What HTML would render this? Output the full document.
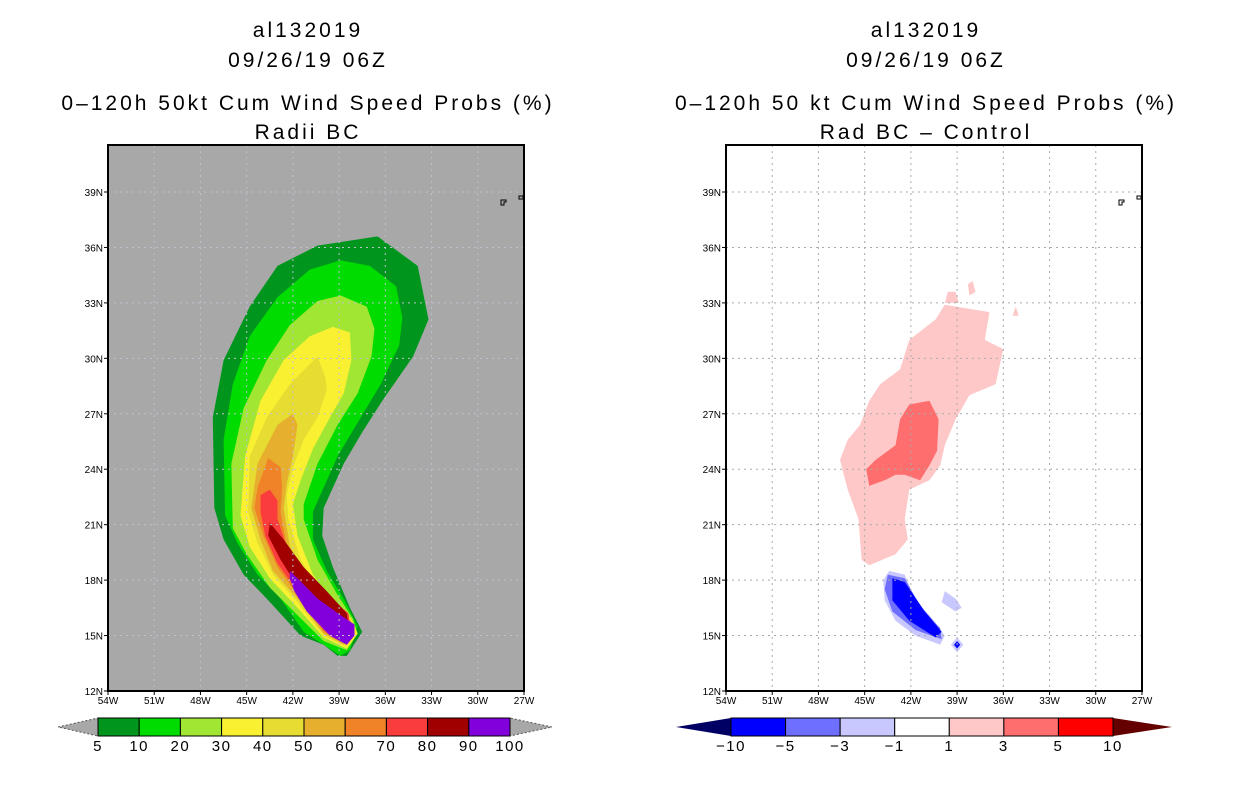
<!DOCTYPE html>
<html><head><meta charset="utf-8"><style>
html,body{margin:0;padding:0;background:#fff;}
svg{display:block;font-family:"Liberation Sans",sans-serif;}
</style></head><body>
<svg id="chart" width="1236" height="800" viewBox="0 0 1236 800">
<g font-size="21" letter-spacing="3" text-anchor="middle" fill="#000">
<text x="308" y="37">al132019</text><text x="308" y="67">09/26/19 06Z</text>
<text x="308" y="110">0–120h 50kt Cum Wind Speed Probs (%)</text><text x="308" y="139">Radii BC</text></g>
<g font-size="21" letter-spacing="3" text-anchor="middle" fill="#000">
<text x="926" y="37">al132019</text><text x="926" y="67">09/26/19 06Z</text>
<text x="926" y="110">0–120h 50 kt Cum Wind Speed Probs (%)</text><text x="926" y="139">Rad BC – Control</text></g>
<g id="left"></g>
<g id="right"></g>
<g id="cbL"></g>
<g id="cbR"></g>
</svg>
<script>
const NS="http://www.w3.org/2000/svg";
const lonTicks=[-54,-51,-48,-45,-42,-39,-36,-33,-30,-27];
const latTicks=[12,15,18,21,24,27,30,33,36,39];
const leftLevels=[5,10,20,30,40,50,60,70,80,90,100];
const leftColors=["#00961e","#00dc00","#a0e632","#faf032","#e6dc32","#e6af2d","#f08228","#fa3c3c","#a00000","#8200dc"];
const rightLevels=[-10,-5,-3,-1,1,3,5,10];
const rightColors=["#0000ff","#6e6eff","#c8c8ff","#ffffff","#ffc8c8","#ff6e6e","#ff0000"];
const prob5=[[-36.5,36.6],[-33.9,35.0],[-33.2,32.1],[-34.2,30.1],[-36.2,27.7],[-37.5,26.0],[-38.7,24.3],[-40.0,21.9],[-40.1,20.4],[-39.4,18.7],[-38.3,16.5],[-37.5,15.2],[-38.5,13.9],[-39.1,13.9],[-40.0,14.5],[-41.5,15.0],[-43.7,17.0],[-45.2,18.3],[-46.5,20.2],[-47.1,21.9],[-47.2,26.8],[-46.5,29.9],[-44.8,32.8],[-43.0,35.0],[-40.4,36.1]];
const prob10=[[-38.9,35.3],[-37.0,35.0],[-35.3,33.9],[-34.9,32.2],[-35.1,30.7],[-36.3,28.6],[-37.6,26.8],[-39.1,24.7],[-40.7,21.7],[-40.7,20.2],[-39.8,18.5],[-38.7,17.0],[-37.8,15.5],[-38.3,14.2],[-38.9,13.9],[-40.0,14.5],[-41.3,15.2],[-42.8,17.0],[-44.3,18.3],[-45.6,20.0],[-46.4,21.5],[-46.5,25.6],[-45.9,28.6],[-44.8,31.2],[-43.0,33.3],[-40.9,34.8]];
const prob20=[[-38.9,33.4],[-37.2,32.8],[-36.7,31.6],[-36.9,30.1],[-37.8,28.1],[-39.1,26.4],[-40.4,24.3],[-41.3,22.1],[-41.3,21.3],[-40.4,19.1],[-39.1,17.2],[-38.1,15.9],[-37.8,15.1],[-38.5,14.2],[-40.0,14.7],[-41.7,16.1],[-43.5,17.6],[-45.0,19.4],[-45.9,20.8],[-46.0,24.3],[-45.2,27.3],[-43.7,29.9],[-42.2,31.8],[-40.4,33.1]];
const prob30=[[-39.4,31.7],[-38.3,31.4],[-38.2,29.9],[-38.7,28.1],[-39.6,26.8],[-40.7,25.1],[-41.5,23.4],[-42.0,22.1],[-41.7,20.4],[-40.7,18.3],[-39.4,16.8],[-38.2,15.9],[-37.8,15.1],[-38.5,14.3],[-40.0,14.9],[-41.7,16.5],[-43.5,18.1],[-44.8,19.8],[-45.4,21.5],[-45.1,24.7],[-44.1,27.7],[-42.6,29.9],[-40.9,31.2]];
const prob40=[[-40.4,30.1],[-39.9,29.0],[-39.8,28.3],[-40.4,26.8],[-41.3,25.6],[-42.0,24.1],[-42.4,22.6],[-42.3,21.3],[-41.5,19.1],[-40.2,17.4],[-38.9,16.3],[-38.2,15.8],[-38.0,15.1],[-38.5,14.4],[-40.0,15.0],[-41.7,16.8],[-43.3,18.3],[-44.3,20.0],[-44.9,21.7],[-44.8,24.7],[-43.7,26.8],[-42.2,28.6]];
const prob50=[[-42.0,27.0],[-41.7,26.4],[-42.0,24.7],[-42.4,23.2],[-42.6,21.9],[-42.2,19.8],[-41.1,18.1],[-39.6,16.8],[-38.3,15.9],[-38.1,15.2],[-38.7,14.5],[-40.0,15.1],[-41.7,17.0],[-43.3,18.5],[-44.1,20.2],[-44.7,21.9],[-44.3,24.3],[-43.0,26.4]];
const prob60=[[-43.6,24.6],[-42.8,24.1],[-42.7,23.0],[-42.8,21.7],[-42.4,19.8],[-41.3,18.3],[-39.8,17.0],[-38.4,16.1],[-38.2,15.4],[-38.7,14.6],[-40.0,15.2],[-41.7,17.2],[-43.0,18.7],[-43.9,20.4],[-44.5,21.9],[-44.3,23.0]];
const prob70=[[-43.5,22.9],[-43.0,22.3],[-43.0,21.3],[-42.4,19.8],[-41.3,18.5],[-39.8,17.2],[-38.4,16.2],[-38.3,15.5],[-38.7,14.7],[-40.0,15.3],[-41.7,17.4],[-43.0,18.9],[-43.8,20.4],[-44.1,21.7],[-44.1,22.6]];
const prob80=[[-43.5,21.1],[-42.6,20.2],[-41.3,18.7],[-39.8,17.4],[-38.5,16.2],[-38.4,15.6],[-38.8,14.8],[-40.0,15.5],[-41.5,17.4],[-42.8,19.1],[-43.6,20.4]];
const prob90=[[-42.2,18.5],[-41.7,18.1],[-40.4,17.0],[-38.9,16.1],[-38.0,15.6],[-38.0,15.0],[-38.5,14.5],[-39.6,15.0],[-41.1,16.3],[-41.9,17.4],[-42.2,18.1]];
const diffPos1=[[-39.8,32.9],[-36.9,32.5],[-37.2,31.0],[-36.0,30.5],[-36.5,28.6],[-38.2,28.0],[-39.1,26.7],[-39.8,25.3],[-40.1,24.2],[-40.8,23.4],[-42.1,22.9],[-42.4,21.3],[-42.2,20.2],[-43.0,19.4],[-44.7,18.8],[-45.2,19.1],[-45.4,21.3],[-46.1,22.9],[-46.6,24.5],[-46.1,25.6],[-45.3,26.4],[-44.7,27.7],[-44.0,28.6],[-42.7,29.4],[-42.1,31.0],[-40.4,32.1]];
const diffPos1b=[[-39.6,33.6],[-39.1,33.6],[-38.9,33.0],[-39.8,33.0]];
const diffPos1c=[[-38.3,34.0],[-38.0,34.2],[-37.8,33.6],[-38.2,33.4]];
const diffPos1d=[[-35.2,32.8],[-35.0,32.3],[-35.4,32.3]];
const diffPos3=[[-42.1,27.5],[-40.8,27.7],[-40.2,26.7],[-40.3,25.0],[-40.8,24.2],[-41.4,23.4],[-42.4,23.7],[-43.0,23.7],[-43.7,23.4],[-44.7,23.1],[-44.9,24.0],[-44.3,24.5],[-43.0,25.3],[-42.7,26.7]];
const diffNeg1=[[-43.4,18.5],[-42.4,18.3],[-41.7,16.9],[-40.8,16.1],[-39.8,15.0],[-40.1,14.5],[-41.7,15.0],[-43.0,15.8],[-43.7,16.9],[-43.8,18.0]];
const diffNeg1b=[[-39.8,17.4],[-39.1,17.0],[-38.7,16.5],[-39.1,16.3],[-40.0,16.8]];
const diffNeg1c=[[-39.4,14.5],[-39.0,14.9],[-38.6,14.5],[-39.0,14.1]];
const diffNeg3=[[-43.5,18.3],[-42.4,18.1],[-41.4,16.6],[-40.1,15.4],[-40.0,14.8],[-41.7,15.3],[-43.2,16.3],[-43.7,17.5]];
const diffNeg5=[[-43.2,18.1],[-42.4,17.9],[-41.1,16.3],[-40.0,15.2],[-40.4,14.9],[-42.1,15.8],[-43.2,16.9]];
const diffNeg5c=[[-39.2,14.5],[-39.0,14.7],[-38.8,14.5],[-39.0,14.3]];

function mk(tag,attrs,parent){const e=document.createElementNS(NS,tag);for(const k in attrs)e.setAttribute(k,attrs[k]);parent.appendChild(e);return e;}
const Y0=691,Y1=145,latMin=12,latPerPx=27/(691-192);
function axes(x0){return {x:lon=>x0+(lon+54)/27*416,y:lat=>Y0-(lat-latMin)/latPerPx};}
function poly(g,ax,pts,fill,name){const e=mk('polygon',{points:pts.map(p=>ax.x(p[0]).toFixed(1)+','+ax.y(p[1]).toFixed(1)).join(' '),fill:fill},g);

}
function panel(id,x0,bg,gridCol,layers){
 const g=document.getElementById(id),ax=axes(x0);
 const r=mk('rect',{x:x0,y:Y1,width:416,height:Y0-Y1,fill:bg},g);
 
 
 layers.forEach(l=>poly(g,ax,l[0],l[1],l[2]));
 lonTicks.slice(1,-1).forEach(v=>{const l=mk('line',{x1:ax.x(v),x2:ax.x(v),y1:Y1,y2:Y0,stroke:gridCol,'stroke-dasharray':'2,4'},g);
  
  });
 latTicks.slice(1).forEach(v=>{const l=mk('line',{x1:x0,x2:x0+416,y1:ax.y(v),y2:ax.y(v),stroke:gridCol,'stroke-dasharray':'2,4'},g);
  
  });
 mk('path',{d:`M${x0+393} 200h5v2h-2v3h-3z M${x0+411} 196h4v3h-4z`,fill:'none',stroke:'#000','stroke-width':1},g);
 const b=mk('rect',{x:x0,y:Y1,width:416,height:Y0-Y1,fill:'none',stroke:'#000','stroke-width':2},g);
 
 
 lonTicks.forEach(v=>{mk('line',{x1:ax.x(v),x2:ax.x(v),y1:Y0,y2:Y0+4,stroke:'#000'},g);
  const t=mk('text',{x:ax.x(v),y:Y0+13,'font-size':10,'text-anchor':'middle'},g);t.textContent=(-v)+'W';
  
  });
 latTicks.forEach(v=>{mk('line',{x1:x0-4,x2:x0,y1:ax.y(v),y2:ax.y(v),stroke:'#000'},g);
  const t=mk('text',{x:x0-5,y:ax.y(v)+4,'font-size':10,'text-anchor':'end'},g);t.textContent=v+'N';
  
  });
}
panel('left',108,'#a8a8a8','#c0c0d0',[[prob5,leftColors[0],'contour-5'],[prob10,leftColors[1],'contour-10'],[prob20,leftColors[2],'contour-20'],[prob30,leftColors[3],'contour-30'],[prob40,leftColors[4],'contour-40'],[prob50,leftColors[5],'contour-50'],[prob60,leftColors[6],'contour-60'],[prob70,leftColors[7],'contour-70'],[prob80,leftColors[8],'contour-80'],[prob90,leftColors[9],'contour-90']]);
panel('right',726,'#ffffff','#aaaaaa',[[diffPos1,rightColors[4],'diff-pos-1'],[diffPos1b,rightColors[4],'diff-pos-1-patch-a'],[diffPos1c,rightColors[4],'diff-pos-1-patch-b'],[diffPos1d,rightColors[4],'diff-pos-1-patch-c'],[diffPos3,rightColors[5],'diff-pos-3'],[diffNeg1,rightColors[2],'diff-neg-1'],[diffNeg1b,rightColors[2],'diff-neg-1-patch'],[diffNeg1c,rightColors[2],'diff-neg-1-dot'],[diffNeg3,rightColors[1],'diff-neg-3'],[diffNeg5,rightColors[0],'diff-neg-5'],[diffNeg5c,rightColors[0],'diff-neg-5-dot']]);

function cbar(id,x0,x1,tx0,tx1,levels,colors,leftTri,rightTri,triStroke){
 const g=document.getElementById(id),y=718,h=18,n=colors.length,w=(x1-x0)/n;
 mk('polygon',{points:`${tx0},${y+h/2} ${x0},${y} ${x0},${y+h}`,fill:leftTri,stroke:triStroke,'stroke-dasharray':'2,2'},g);
 mk('polygon',{points:`${tx1},${y+h/2} ${x1},${y} ${x1},${y+h}`,fill:rightTri,stroke:triStroke,'stroke-dasharray':'2,2'},g);
 colors.forEach((c,i)=>{const r=mk('rect',{x:x0+i*w,y:y,width:w,height:h,fill:c,stroke:'#000','stroke-width':1},g);
  
  });
 levels.forEach((v,i)=>{const t=mk('text',{x:x0+i*w,y:y+h+15,'font-size':15,'letter-spacing':1.5,'text-anchor':'middle'},g);t.textContent=String(v).replace('-','−');
  
  });
}
cbar('cbL',98,510,58,552,leftLevels,leftColors,'#a8a8a8','#a8a8a8','#555');
cbar('cbR',731,1113,676,1172,rightLevels,rightColors,'#000064','#640000','none');
</script>
</body></html>
